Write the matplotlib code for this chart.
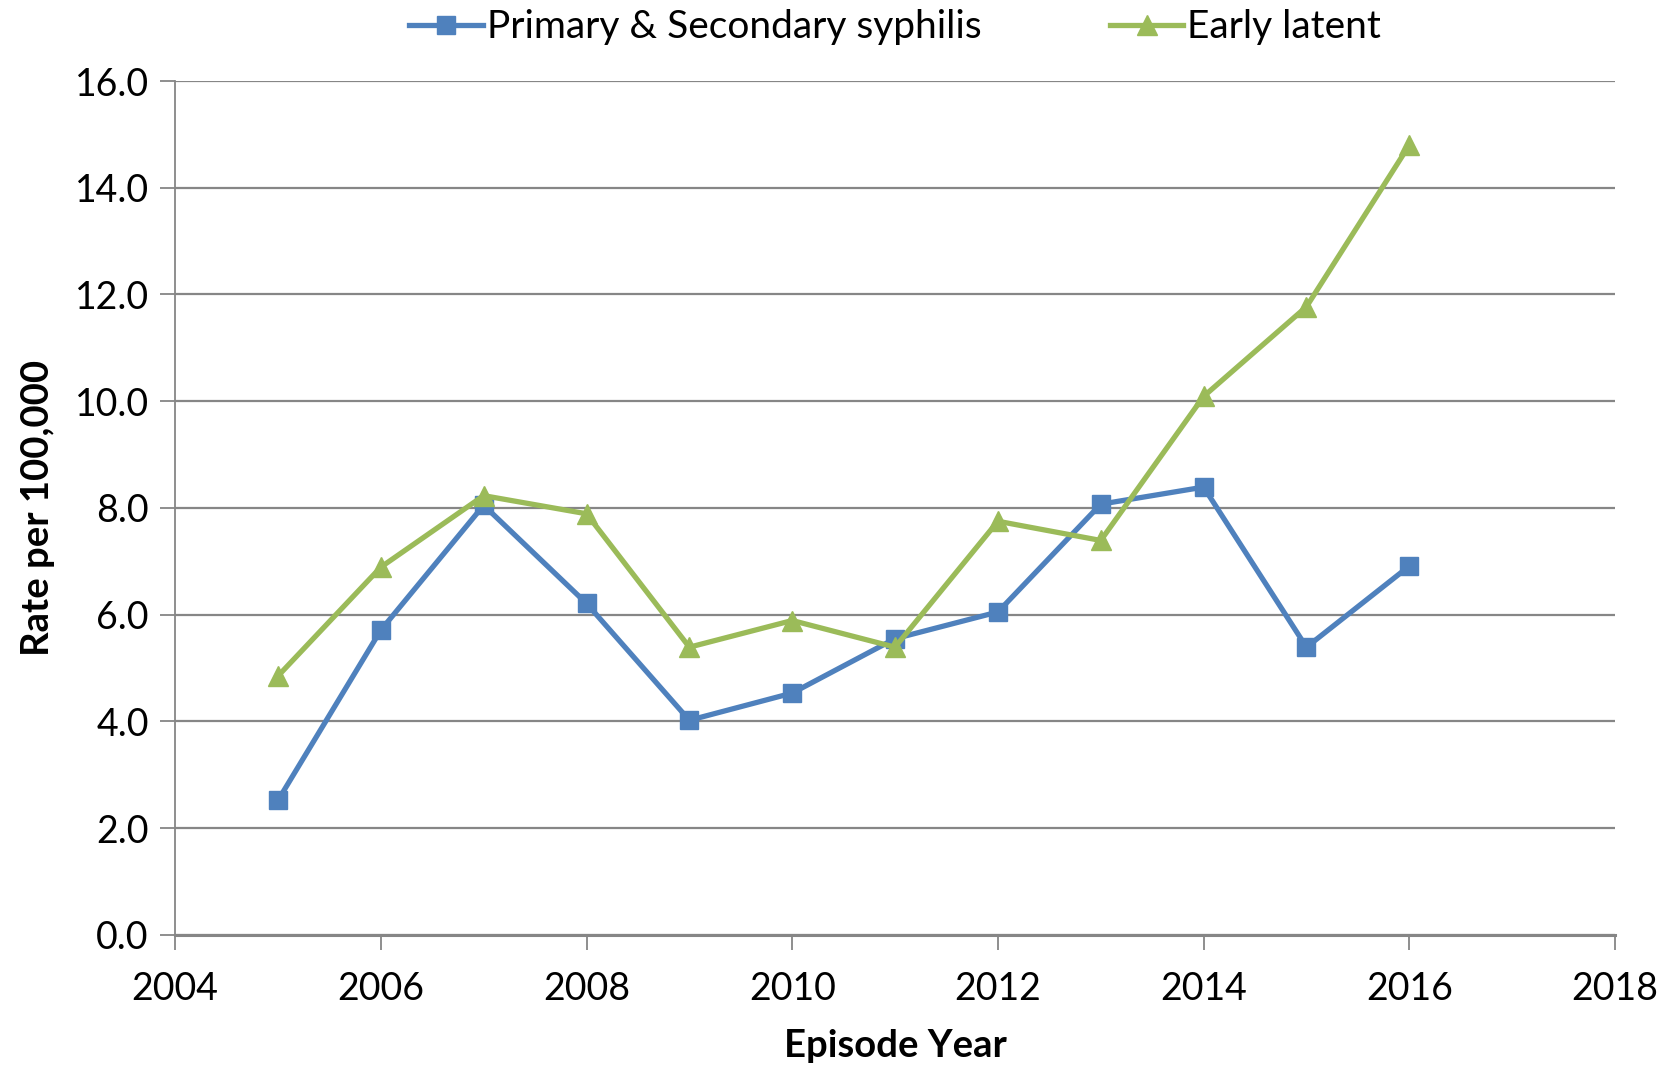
import matplotlib
matplotlib.use("Agg")
import matplotlib.pyplot as plt

# dados (taxa por 100.000)
anos = [2005, 2006, 2007, 2008, 2009, 2010, 2011, 2012, 2013, 2014, 2015, 2016]
primaria_secundaria = [2.52, 5.71, 8.05, 6.21, 4.02, 4.53, 5.55, 6.05, 8.07, 8.39, 5.39, 6.91]
latente_precoce = [4.85, 6.89, 8.23, 7.89, 5.39, 5.89, 5.39, 7.75, 7.39, 10.09, 11.77, 14.80]

nomes_series = ["Primary & Secondary syphilis", "Early latent"]
ticks_x = [2004, 2006, 2008, 2010, 2012, 2014, 2016, 2018]
ticks_y = [0, 2, 4, 6, 8, 10, 12, 14, 16]

azul = "#4F81BD"
verde = "#9BBB59"
cinza = "#868686"

plt.rcParams["font.family"] = ["Lato", "DejaVu Sans"]

fig = plt.figure(figsize=(16.76, 10.72), dpi=100)
ax = fig.add_axes([0.1045, 0.128, 0.8591, 0.7964])

ax.plot(anos, primaria_secundaria, color=azul, linewidth=3.8, marker="s",
        markersize=12.5, label=nomes_series[0], zorder=3)
ax.plot(anos, latente_precoce, color=verde, linewidth=3.8, marker="^",
        markersize=15, label=nomes_series[1], zorder=3)

ax.set_xlim(2004, 2018)
ax.set_ylim(0, 16)
ax.set_xticks(ticks_x)
ax.set_yticks(ticks_y)
ax.set_yticklabels(["%.1f" % v for v in ticks_y])

ax.grid(axis="y", color=cinza, linewidth=1.6)
ax.set_axisbelow(True)

for lado in ["top", "right"]:
    ax.spines[lado].set_visible(False)
ax.spines["left"].set_color(cinza)
ax.spines["left"].set_linewidth(1.3)
ax.spines["bottom"].set_color(cinza)
ax.spines["bottom"].set_linewidth(2.2)

ax.tick_params(axis="x", direction="out", length=11, width=1.3, color=cinza,
               labelsize=27, pad=15)
ax.tick_params(axis="y", direction="out", length=11, width=1.3, color=cinza,
               labelsize=27, pad=8)

ax.set_xlabel("Episode Year", fontsize=27.5, fontweight="bold", labelpad=16)
ax.set_ylabel("Rate per 100,000", fontsize=27.5, fontweight="bold", labelpad=14)

leg = ax.legend(loc="upper center", bbox_to_anchor=(0.5, 1.125), ncol=2,
                frameon=False, fontsize=28, handlelength=1.9, handletextpad=0.1,
                columnspacing=3.3)

fig.savefig("out.png", dpi=100)
